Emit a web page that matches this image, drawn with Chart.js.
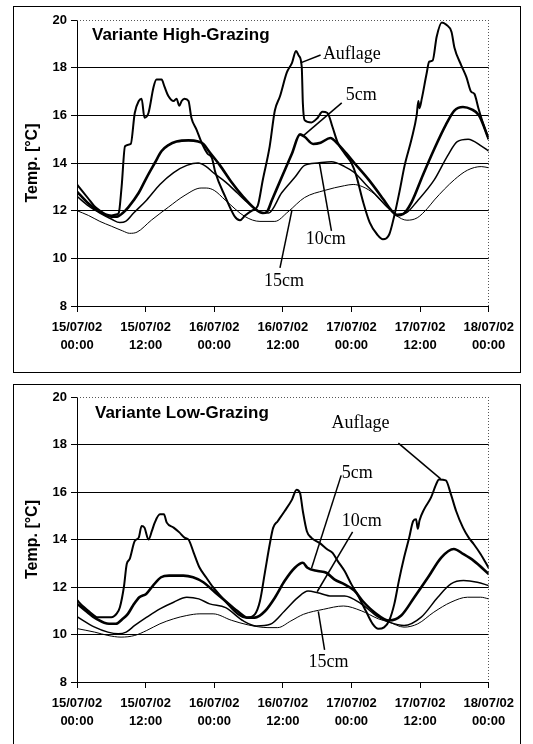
<!DOCTYPE html>
<html>
<head>
<meta charset="utf-8">
<script src="https://cdn.jsdelivr.net/npm/chart.js@4.4.0/dist/chart.umd.min.js"></script>
<style>
  html, body { margin: 0; padding: 0; background: #fff; }
  body { width: 533px; height: 744px; position: relative; overflow: hidden; }
  .panel { position: absolute; left: 13px; width: 508px; box-sizing: border-box; border: 1px solid #000; background: #fff; }
  #p1 { top: 6px; height: 367px; }
  #p2 { top: 384px; height: 380px; }
  canvas { position: absolute; left: 0; top: 0; }
</style>
</head>
<body>
<div class="panel" id="p1"><canvas id="c1" width="506" height="365"></canvas></div>
<div class="panel" id="p2"><canvas id="c2" width="506" height="360"></canvas></div>
<script>
// Time axis: hours after 15/07/02 00:00, labelled every 12 h
const tickDates = ['15/07/02', '15/07/02', '16/07/02', '16/07/02', '17/07/02', '17/07/02', '18/07/02'];
const tickTimes = ['00:00', '12:00', '00:00', '12:00', '00:00', '12:00', '00:00'];
const seriesNames = ['Auflage', '5cm', '10cm', '15cm'];

// ---- Variante High-Grazing ----
const hgAuflageH = [0,1,2,3,4,5,6,7,7.3,7.8,8.4,9.4,10.1,10.8,11.3,11.8,12.5,13.4,13.9,14.8,15.3,16,16.9,17.4,17.9,18.3,18.8,19.5,20,20.9,21.8,22.8,23.6,24.2,25.9,27.6,28.5,29.4,30.6,31.6,32.5,33.7,34.6,35.5,36.7,37.6,38.3,38.8,39.3,39.5,39.8,41,42.1,42.9,43.8,44.7,45.6,46.8,48,48.8,50,51.2,52.5,53.5,54.6,55.5,56.4,57.3,58.5,59.4,59.7,59.9,60.3,61.1,61.6,62.2,62.9,63.8,64.6,65.5,66,67.2,68.1,68.9,69.5,70.2,71.1,72];
const hgAuflageT = [13.1,12.8,12.5,12.2,12.0,11.85,11.8,11.85,11.9,13.0,14.7,14.8,16.1,16.6,16.7,15.9,16.1,17.2,17.5,17.5,17.2,16.8,16.6,16.7,16.4,16.6,16.7,16.6,15.9,15.4,14.85,14.4,14.2,13.6,12.6,11.75,11.6,11.8,12.0,12.2,13.3,14.7,16.2,16.8,17.8,18.2,18.7,18.5,18.05,16.5,15.8,15.7,15.9,16.15,16.1,15.5,14.85,14.4,14.0,13.5,12.4,11.5,11.0,10.8,11.0,11.8,12.8,13.9,15.0,16.0,16.6,16.3,16.7,17.7,18.25,18.3,19.3,19.9,19.8,19.5,18.85,18.1,17.6,17.0,16.9,16.3,15.6,15.0];
const hg5cmH = [0,2,4,6,7,8,9,10.8,12.2,13.6,14.8,16,17.4,19.5,21.2,22.1,23.2,25,27,29,31,32.5,33.2,34.1,35.8,37.6,39,39.8,41.3,42.6,44.3,45.6,47.1,48.5,51,53.5,55,56,57,58.5,60.5,62.5,64.5,66,67.5,69,70.3,72];
const hg5cmT = [12.8,12.3,11.95,11.75,11.75,11.9,12.15,12.75,13.4,14.0,14.5,14.75,14.9,14.95,14.9,14.8,14.45,13.9,13.2,12.6,12.1,11.9,11.95,12.45,13.4,14.4,15.2,15.1,14.8,14.85,15.05,14.8,14.4,14.0,13.3,12.5,12.0,11.8,11.85,12.35,13.5,14.6,15.6,16.2,16.35,16.25,16.0,15.0];
const hg10cmH = [0,2,4,6,7.5,8.5,9.9,12.2,14.5,16.9,19.2,21.2,22.6,23.8,26,28,30,32,33.5,35.8,38.1,39.8,42.1,44.5,46.8,48.5,50.5,52.5,54.5,56,57.5,59.5,62.5,64.8,66.5,68.4,70.8,72];
const hg10cmT = [12.6,12.2,11.9,11.65,11.5,11.55,11.9,12.45,13.1,13.6,13.9,14.0,13.85,13.6,13.2,12.75,12.3,11.95,11.9,12.75,13.4,13.9,14.0,14.05,13.85,13.6,13.1,12.6,12.1,11.85,11.9,12.4,13.3,14.3,14.9,15.0,14.7,14.5];
const hg15cmH = [0,2,4,6,8,9.2,10.5,13,16,18.9,21.7,22.6,24,25.9,29.4,32,34.6,36.9,39.8,43.3,46.8,48.3,50,52,54,55.8,57.7,59.5,61.3,62.5,66,68.3,70.7,72];
const hg15cmT = [12.0,11.8,11.55,11.35,11.15,11.05,11.1,11.6,12.15,12.65,12.95,12.95,12.85,12.45,11.75,11.55,11.55,11.95,12.55,12.85,13.05,13.1,13.0,12.7,12.2,11.8,11.6,11.7,12.1,12.45,13.3,13.7,13.85,13.8];

// ---- Variante Low-Grazing ----
const lgAuflageH = [0,1,2,3,3.5,6,7,7.5,8.2,8.7,9.2,10.1,10.8,11.3,11.8,12.5,13.1,13.6,14.5,15.2,15.7,16.9,17.9,18.8,19.5,20.4,21.4,22.6,23.8,25.9,28.2,29.7,31.1,32,32.9,33.7,34.3,35.1,36.3,37.6,38.4,39,39.5,40.2,41,42.4,43.8,44.7,45.6,46.8,48,49,50.5,51.7,52.7,53.7,54.6,55.5,56.3,57.2,58.1,58.8,59.3,59.6,59.9,60.7,61.9,62.8,63.3,64.5,65.4,66.3,67.5,68.5,69.4,70.6,72];
const lgAuflageT = [11.45,11.2,11.0,10.8,10.73,10.73,10.9,11.15,12.0,12.97,13.17,13.94,14.08,14.57,14.5,14.0,14.36,14.71,15.06,15.06,14.71,14.5,14.3,14.08,14.0,13.45,12.83,12.4,11.99,11.41,10.85,10.71,10.85,11.41,12.67,13.79,14.49,14.77,15.19,15.68,16.1,15.96,15.19,14.35,14.07,13.86,13.58,13.44,13.09,12.67,12.11,11.7,11.0,10.45,10.24,10.3,10.59,11.29,12.27,13.24,14.08,14.78,14.85,14.45,14.8,15.27,15.76,16.32,16.53,16.49,15.9,15.2,14.5,14.08,13.8,13.38,12.8];
const lg5cmH = [0,1.5,3.4,5.6,6.8,8,8.9,9.8,10.9,12.1,13.3,14.7,16.1,18.6,20.3,22.1,23.8,26,28,29.9,31.1,32.9,34.6,36.3,38.1,39.5,40.3,42.1,43.6,45,46.8,48.5,50,52,54.6,56.7,59,61.4,63.7,65.9,67.6,69.4,72];
const lg5cmT = [11.3,11.0,10.66,10.45,10.45,10.66,10.87,11.22,11.57,11.71,12.06,12.41,12.48,12.48,12.41,12.2,11.85,11.4,11.0,10.71,10.71,10.99,11.55,12.25,12.81,13.02,12.81,12.67,12.6,12.32,12.11,11.85,11.4,10.94,10.59,10.8,11.57,12.41,13.24,13.6,13.38,13.1,12.55];
const lg10cmH = [0,3.1,5.4,7.2,8.6,10.1,12.2,14.5,16.9,19.2,21.3,23.2,26,29.1,31.4,33.8,36.3,38.6,40.4,42.1,44.5,46.8,49.7,52.7,54.6,57.2,60.2,63.1,65.4,67.6,70,72];
const lg10cmT = [10.75,10.31,10.1,10.03,10.1,10.38,10.73,11.08,11.36,11.57,11.5,11.29,11.13,10.57,10.36,10.43,10.99,11.55,11.83,11.76,11.62,11.62,11.29,10.73,10.52,10.38,10.73,11.57,12.13,12.27,12.2,12.06];
const lg15cmH = [0,3.1,5.4,7.7,10.1,12.2,14.5,16.9,19.2,21.5,23.8,27,30,33.4,35.1,37.4,39.6,43.1,46.6,49.7,52.7,54.6,57.2,59.6,62.4,65.4,68.3,70.6,72];
const lg15cmT = [10.25,10.1,9.96,9.89,9.96,10.17,10.45,10.66,10.8,10.87,10.87,10.6,10.4,10.29,10.29,10.57,10.85,11.06,11.2,11.0,10.66,10.52,10.31,10.45,10.94,11.36,11.57,11.57,11.5];

// Line weights per depth (surface litter heaviest, deepest thinnest)
const lineWidths = [2, 2.6, 1.5, 1];

const FONT_SANS = '"Liberation Sans", Arial, Helvetica, sans-serif';
const FONT_SERIF = '"Liberation Serif", "Times New Roman", serif';

function toPoints(hours, temps) {
  return hours.map((h, i) => ({ x: h, y: temps[i] }));
}

// Dotted top/right plot edges, the panel heading, and the series callouts
const calloutPlugin = {
  id: 'callouts',
  afterDatasetsDraw(chart, args, opts) {
    const { ctx, chartArea: a, scales: { x, y } } = chart;
    ctx.save();
    ctx.strokeStyle = '#555';
    ctx.lineWidth = 1;
    ctx.setLineDash([1, 2]);
    ctx.beginPath();
    ctx.moveTo(a.left, Math.round(a.top) + 0.5);
    ctx.lineTo(a.right, Math.round(a.top) + 0.5);
    ctx.moveTo(Math.round(a.right) - 0.5, a.top);
    ctx.lineTo(Math.round(a.right) - 0.5, a.bottom);
    ctx.stroke();
    ctx.setLineDash([]);

    ctx.fillStyle = '#000';
    ctx.textBaseline = 'middle';
    ctx.textAlign = 'left';
    ctx.font = 'bold 17px ' + FONT_SANS;
    ctx.fillText(opts.heading, a.left + opts.headingDx, a.top + opts.headingDy);

    ctx.font = '18px ' + FONT_SERIF;
    ctx.strokeStyle = '#000';
    ctx.lineWidth = 1.5;
    opts.callouts.forEach(c => {
      ctx.beginPath();
      ctx.moveTo(x.getPixelForValue(c.from[0]), y.getPixelForValue(c.from[1]));
      ctx.lineTo(x.getPixelForValue(c.to[0]), y.getPixelForValue(c.to[1]));
      ctx.stroke();
      ctx.fillText(c.text, x.getPixelForValue(c.at[0]), y.getPixelForValue(c.at[1]));
    });
    ctx.restore();
  }
};

function makeChart(canvasId, series, layout, plotTop, plotBottom, callouts) {
  const canvas = document.getElementById(canvasId);
  const xAxisHeight = canvas.height - plotBottom;
  return new Chart(canvas, {
    type: 'line',
    data: {
      datasets: series.map((s, i) => ({
        label: seriesNames[i],
        data: toPoints(s[0], s[1]),
        borderColor: '#000',
        borderWidth: lineWidths[i],
        pointRadius: 0,
        fill: false,
        cubicInterpolationMode: 'monotone'
      }))
    },
    options: {
      responsive: false,
      animation: false,
      layout: { padding: { left: 0, right: 29, top: plotTop, bottom: 0 } },
      plugins: {
        legend: { display: false },
        tooltip: { enabled: false },
        callouts: Object.assign({}, layout, { callouts })
      },
      scales: {
        x: {
          type: 'linear',
          min: 0,
          max: 72,
          afterFit(scale) { scale.height = xAxisHeight; },
          border: { display: true, color: '#000', width: 1 },
          grid: { drawOnChartArea: false, drawTicks: true, tickLength: 6, color: '#000', tickColor: '#000' },
          ticks: {
            stepSize: 12,
            autoSkip: false,
            maxRotation: 0,
            padding: 6,
            color: '#000',
            font: { family: FONT_SANS, size: 13, weight: 'bold', lineHeight: 1.385 },
            callback: v => {
              const k = Math.round(v / 12);
              return [tickDates[k], tickTimes[k]];
            }
          }
        },
        y: {
          min: 8,
          max: 20,
          afterFit(scale) { scale.width = 63; },
          border: { display: true, color: '#000', width: 1 },
          grid: {
            color: ctx => (ctx.tick && ctx.tick.value === 20) ? 'rgba(0,0,0,0)' : '#000',
            tickColor: '#000',
            lineWidth: 1,
            tickLength: 6
          },
          ticks: {
            stepSize: 2,
            padding: 4,
            color: '#000',
            font: { family: FONT_SANS, size: 13, weight: 'bold' }
          },
          title: {
            display: true,
            text: 'Temp. [°C]',
            color: '#000',
            font: { family: FONT_SANS, size: 16, weight: 'bold', lineHeight: 1.2 },
            padding: { top: 9, bottom: 0 }
          }
        }
      }
    },
    plugins: [calloutPlugin]
  });
}

makeChart('c1',
  [[hgAuflageH, hgAuflageT], [hg5cmH, hg5cmT], [hg10cmH, hg10cmT], [hg15cmH, hg15cmT]],
  { heading: 'Variante High-Grazing', headingDx: 15, headingDy: 15 },
  13, 299,
  [
    { text: 'Auflage', at: [43.0, 18.57], from: [42.6, 18.53], to: [39.1, 18.2] },
    { text: '5cm', at: [47.0, 16.85], from: [46.3, 16.52], to: [39.6, 15.15] },
    { text: '10cm', at: [40.0, 10.81], from: [44.5, 11.15], to: [42.4, 14.0] },
    { text: '15cm', at: [32.7, 9.05], from: [35.5, 9.6], to: [37.6, 12.03] }
  ]);

makeChart('c2',
  [[lgAuflageH, lgAuflageT], [lg5cmH, lg5cmT], [lg10cmH, lg10cmT], [lg15cmH, lg15cmT]],
  { heading: 'Variante Low-Grazing', headingDx: 18, headingDy: 16 },
  12, 297,
  [
    { text: 'Auflage', at: [44.5, 18.9], from: [56.2, 18.06], to: [63.6, 16.55] },
    { text: '5cm', at: [46.3, 16.8], from: [46.2, 16.7], to: [41.0, 12.78] },
    { text: '10cm', at: [46.3, 14.78], from: [48.2, 14.32], to: [42.0, 11.8] },
    { text: '15cm', at: [40.5, 8.84], from: [43.3, 9.35], to: [42.2, 10.97] }
  ]);
</script>
</body>
</html>
